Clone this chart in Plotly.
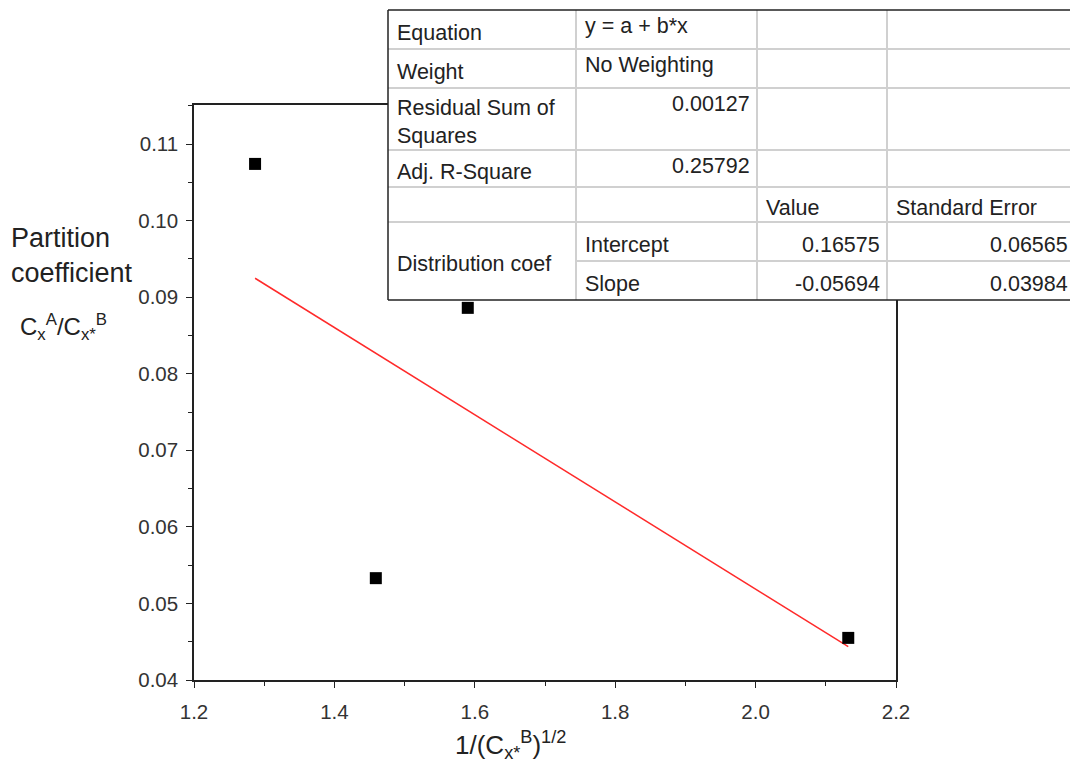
import plotly.graph_objects as go

# ---- data ----
x_vals = [1.287, 1.459, 1.590, 2.132]
y_vals = [0.1074, 0.0533, 0.0886, 0.0455]
intercept = 0.16575
slope = -0.05694

x_ticks = [1.2, 1.4, 1.6, 1.8, 2.0, 2.2]
y_ticks = [0.04, 0.05, 0.06, 0.07, 0.08, 0.09, 0.10, 0.11]

table_rows = [
    ["Equation", "y = a + b*x", "", ""],
    ["Weight", "No Weighting", "", ""],
    ["Residual Sum of<br>Squares", "0.00127", "", ""],
    ["Adj. R-Square", "0.25792", "", ""],
    ["", "", "Value", "Standard Error"],
    ["Distribution coef", "Intercept", "0.16575", "0.06565"],
    ["", "Slope", "-0.05694", "0.03984"],
]

# ---- layout constants (pixels) ----
W, H = 1070, 767
L, R, T, B = 194, 896, 105, 680
FONT = "Liberation Sans, Arial, sans-serif"

def px(X):
    return (X - L) / (R - L)

def py(Y):
    return (B - Y) / (B - T)

fit_x = [min(x_vals), max(x_vals)]
fit_y = [intercept + slope * v for v in fit_x]

fig = go.Figure()
fig.add_trace(go.Scatter(x=fit_x, y=fit_y, mode="lines",
                         line=dict(color="#ff2a2a", width=1.5), showlegend=False))
fig.add_trace(go.Scatter(x=x_vals, y=y_vals, mode="markers",
                         marker=dict(symbol="square", size=12, color="black"),
                         showlegend=False))

axis_common = dict(showgrid=False, zeroline=False, showline=True, linecolor="#222",
                   linewidth=1.5, mirror=True, ticks="outside", ticklen=6, tickwidth=1.2,
                   tickcolor="#222", tickfont=dict(family=FONT, size=20.5, color="#333"))

fig.update_xaxes(range=[1.2, 2.2], tickvals=x_ticks,
                 ticktext=[f"{v:.1f}" for v in x_ticks], ticklabelstandoff=7,
                 minor=dict(ticks="outside", ticklen=4, dtick=0.1, tickcolor="#222"),
                 **axis_common)
fig.update_yaxes(range=[0.04, 0.04 + (B - T) / ((B - 144) / 0.07)], tickvals=y_ticks,
                 ticktext=[f"{v:.2f}" for v in y_ticks], ticklabelstandoff=4,
                 minor=dict(ticks="outside", ticklen=4, dtick=0.005, tickcolor="#222"),
                 **axis_common)

shapes = []
annotations = []

# table geometry
col_x = [388, 576, 757, 887, 1075]
row_y = [10, 49, 88, 150, 187, 222, 261, 300]
grid = "#d0d0d0"

# white background
shapes.append(dict(type="rect", xref="paper", yref="paper",
                   x0=px(col_x[0]), x1=px(col_x[-1]), y0=py(row_y[-1]), y1=py(row_y[0]),
                   fillcolor="white", line=dict(width=0), layer="above"))
# inner horizontal lines
for i in range(1, len(row_y) - 1):
    x0 = col_x[1] if i == 6 else col_x[0]
    shapes.append(dict(type="line", xref="paper", yref="paper",
                       x0=px(x0), x1=px(col_x[-1]), y0=py(row_y[i]), y1=py(row_y[i]),
                       line=dict(color=grid, width=2), layer="above"))
# inner vertical lines
for c in col_x[1:-1]:
    shapes.append(dict(type="line", xref="paper", yref="paper",
                       x0=px(c), x1=px(c), y0=py(row_y[-1]), y1=py(row_y[0]),
                       line=dict(color=grid, width=2), layer="above"))
# outer border
for (x0, y0, x1, y1) in [(col_x[0], row_y[0], col_x[-1], row_y[0]),
                         (col_x[0], row_y[-1], col_x[-1], row_y[-1]),
                         (col_x[0], row_y[0], col_x[0], row_y[-1])]:
    shapes.append(dict(type="line", xref="paper", yref="paper",
                       x0=px(x0), x1=px(x1), y0=py(y0), y1=py(y1),
                       line=dict(color="#222", width=1.5), layer="above"))

tfont = dict(family=FONT, size=21.5, color="#222")

def cell_text(text, r0, r1, c, align, valign):
    if not text:
        return
    if align == "left":
        X = col_x[c] + 7
        xa = "left"
    else:
        X = col_x[c + 1] - 5
        xa = "right"
    if valign == "top":
        Y = row_y[r0] + 2
        ya = "top"
    else:
        Y = (row_y[r0] + row_y[r1]) / 2 + 3
        ya = "middle"
    annotations.append(dict(xref="paper", yref="paper", x=px(X), y=py(Y), text=text,
                            showarrow=False, xanchor=xa, yanchor=ya, align="left",
                            font=tfont))

for r, row in enumerate(table_rows):
    for c, txt in enumerate(row):
        if not txt:
            continue
        if c == 0:
            if txt == "Distribution coef":
                cell_text(txt, r, r + 2, c, "left", "middle")
            else:
                cell_text(txt, r, r + 1, c, "left", "middle")
        else:
            numeric = txt.replace("-", "").replace(".", "").isdigit()
            if numeric:
                vt = "top" if r < 4 else "middle"
                cell_text(txt, r, r + 1, c, "right", vt)
            else:
                vt = "top" if r < 2 else "middle"
                cell_text(txt, r, r + 1, c, "left", vt)

# axis titles
annotations.append(dict(xref="paper", yref="paper", x=px(9), y=py(255),
                        text="Partition<br>coefficient", showarrow=False,
                        xanchor="left", yanchor="middle", align="left",
                        font=dict(family=FONT, size=27, color="#222")))
annotations.append(dict(xref="paper", yref="paper", x=px(18), y=py(327),
                        text="C<sub>x</sub><sup>A</sup>/C<sub>x*</sub><sup>B</sup>",
                        showarrow=False, xanchor="left", yanchor="middle",
                        font=dict(family=FONT, size=24, color="#222")))
annotations.append(dict(xref="paper", yref="paper", x=px(510), y=py(745),
                        text="1/(C<sub>x*</sub><sup>B</sup>)<sup>1/2</sup>",
                        showarrow=False, xanchor="center", yanchor="middle",
                        font=dict(family=FONT, size=26, color="#222")))

fig.update_layout(width=W, height=H, margin=dict(l=L, r=W - R, t=T, b=H - B),
                  plot_bgcolor="white", paper_bgcolor="white",
                  shapes=shapes, annotations=annotations, showlegend=False)

fig.write_html("out.html")
